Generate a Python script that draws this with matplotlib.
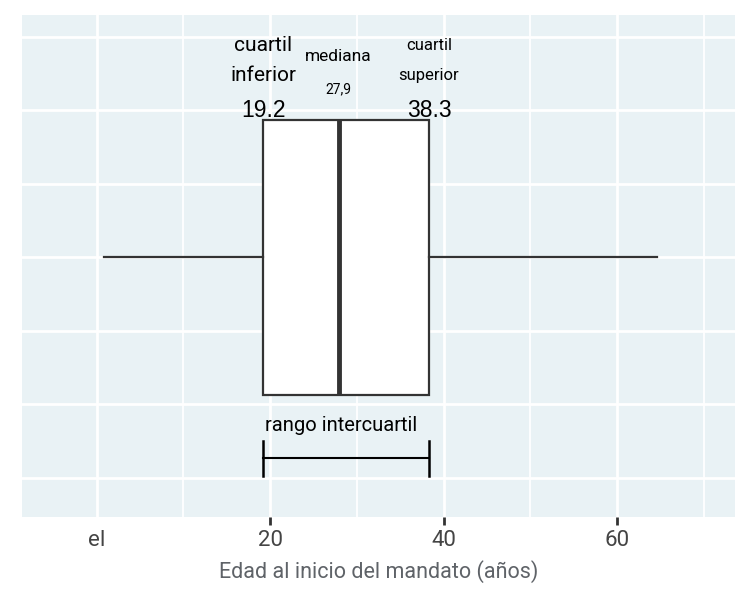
import matplotlib
matplotlib.use("Agg")
import matplotlib.pyplot as plt
from matplotlib.ticker import MultipleLocator

# box statistics (years)
whisker_low = 0.8
q1 = 19.2
median = 27.9
q3 = 38.3
whisker_high = 64.6

xticks = [0, 20, 40, 60]
xtick_labels = ["el", "20", "40", "60"]
xlabel = "Edad al inicio del mandato (años)"

bg = "#E9F2F5"
dark = "#333333"

fig = plt.figure(figsize=(7.5, 6), dpi=100)
ax = fig.add_axes([0.0293, 0.138, 0.951, 0.837])
ax.set_facecolor(bg)

stats = [dict(whislo=whisker_low, q1=q1, med=median, q3=q3, whishi=whisker_high, fliers=[])]
ax.bxp(stats, positions=[0], widths=[3.74], vert=False, patch_artist=True,
       showcaps=False,
       boxprops=dict(facecolor="white", edgecolor=dark, linewidth=1.6),
       medianprops=dict(color=dark, linewidth=3.5),
       whiskerprops=dict(color=dark, linewidth=1.6))

# interquartile bracket
ax.plot([q1, q3], [-2.74, -2.74], color="black", lw=1.5, zorder=4)
ax.plot([q1, q1], [-2.5, -2.98], color="black", lw=1.8, zorder=4)
ax.plot([q3, q3], [-2.5, -2.98], color="black", lw=1.8, zorder=4)
ax.text(q1 + 0.2, -2.29, "rango intercuartil", fontsize=14.5, family="Roboto",
        ha="left", va="center", color="black", zorder=4)

# top labels
ax.text(q1, 2.88, "cuartil", fontsize=15, family="Roboto", ha="center", va="center")
ax.text(q1, 2.47, "inferior", fontsize=15, family="Roboto", ha="center", va="center")
ax.text(q1, 2.0, f"{q1}", fontsize=16.5, family="Liberation Sans", ha="center", va="center")
ax.text(median, 2.73, "mediana", fontsize=12.5, family="Roboto", ha="center", va="center")
ax.text(median, 2.29, f"{median}".replace(".", ","), fontsize=10, family="Roboto",
        ha="center", va="center")
ax.text(q3, 2.88, "cuartil", fontsize=12, family="Roboto", ha="center", va="center")
ax.text(q3, 2.47, "superior", fontsize=12, family="Roboto", ha="center", va="center")
ax.text(q3, 2.0, f"{q3}", fontsize=16.5, family="Liberation Sans", ha="center", va="center")

ax.set_xlim(-8.6, 73.6)
ax.set_ylim(-3.54, 3.30)

ax.set_xticks(xticks)
ax.set_xticklabels(xtick_labels, fontsize=16, color="#444444", family="Roboto")
ax.xaxis.set_minor_locator(MultipleLocator(10))
ax.set_yticks([-3, -2, -1, 0, 1, 2, 3])
ax.set_yticklabels([])
ax.tick_params(axis="y", length=0)
ax.tick_params(axis="x", which="major", length=5.5, width=2, color=dark, pad=4)
ax.tick_params(axis="x", which="minor", length=0)
ax.xaxis.get_major_ticks()[0].tick1line.set_visible(False)

ax.grid(True, which="major", color="white", lw=2)
ax.grid(True, which="minor", axis="x", color="white", lw=1.3)
ax.set_axisbelow(True)
for s in ax.spines.values():
    s.set_visible(False)

ax.set_xlabel(xlabel, fontsize=15.5, color="#5F6368", family="Roboto", labelpad=6)

fig.savefig("out.png", dpi=100)
